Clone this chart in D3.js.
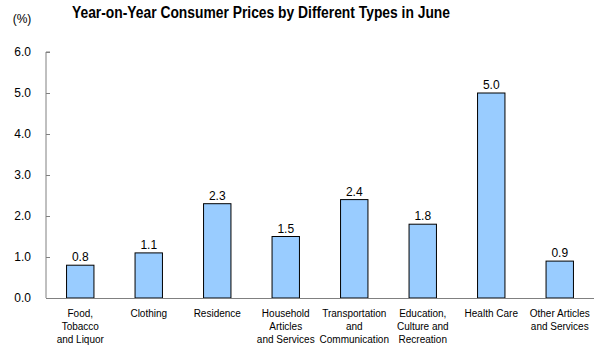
<!DOCTYPE html>
<html><head><meta charset="utf-8">
<script src="https://cdn.jsdelivr.net/npm/d3@7"></script>
<style>body{margin:0;background:#fff}svg{display:block}text{font-family:"Liberation Sans",Arial,sans-serif}</style>
</head><body>
<svg id="c" width="602" height="353"></svg>
<script>
const categories = [
  ["Food,","Tobacco","and Liquor"],
  ["Clothing"],
  ["Residence"],
  ["Household","Articles","and Services"],
  ["Transportation","and","Communication"],
  ["Education,","Culture and","Recreation"],
  ["Health Care"],
  ["Other Articles","and Services"]
];
const values = [0.8, 1.1, 2.3, 1.5, 2.4, 1.8, 5.0, 0.9];
const yTicks = [0, 1, 2, 3, 4, 5, 6];
const title = "Year-on-Year Consumer Prices by Different Types in June";
const unit = "(%)";

(function () {
const svg = d3.select("#c");
const mLeft = 46, mRight = 594, mTop = 52, mBottom = 298;
const x = d3.scaleBand().domain(d3.range(values.length)).range([mLeft, mRight]).paddingInner(0.6).paddingOuter(0.3);
const y = d3.scaleLinear().domain([0, 6]).range([mBottom, mTop]);

svg.append("text").attr("x", 261).attr("y", 18).attr("text-anchor", "middle")
  .attr("font-size", 16).attr("font-weight", "bold").attr("fill", "#000")
  .attr("textLength", 378).attr("lengthAdjust", "spacingAndGlyphs").text(title);
svg.append("text").attr("x", 22).attr("y", 23).attr("text-anchor", "middle")
  .attr("font-size", 12).attr("fill", "#000").text(unit);

const yAxis = svg.append("g").attr("transform", `translate(${mLeft},0)`)
  .call(d3.axisRight(y).tickValues(yTicks).tickSize(4).tickFormat(d3.format(".1f")));
yAxis.select(".domain").attr("stroke", "#808080").attr("d", `M4,${mTop}H0V${mBottom}`);
yAxis.selectAll(".tick line").attr("stroke", "#808080");
yAxis.selectAll(".tick text").attr("x", -15).attr("text-anchor", "end")
  .attr("font-size", 12).attr("fill", "#000").attr("font-family", '"Liberation Sans",Arial,sans-serif');

svg.selectAll("rect.bar").data(values).enter().append("rect")
  .attr("x", (d, i) => x(i)).attr("width", x.bandwidth())
  .attr("y", d => y(d)).attr("height", d => y(0) - y(d))
  .attr("fill", "#99ccff").attr("stroke", "#000").attr("stroke-width", 1);

svg.append("line").attr("x1", mLeft).attr("x2", mRight).attr("y1", mBottom + 0.5).attr("y2", mBottom + 0.5)
  .attr("stroke", "#808080");

svg.selectAll("text.val").data(values).enter().append("text")
  .attr("x", (d, i) => x(i) + x.bandwidth() / 2).attr("y", d => y(d) - 4)
  .attr("text-anchor", "middle").attr("font-size", 12).attr("fill", "#000")
  .text(d => d3.format(".1f")(d));

const cl = svg.selectAll("text.cat").data(categories).enter().append("text")
  .attr("text-anchor", "middle").attr("font-size", 10).attr("fill", "#000")
  .attr("transform", (d, i) => `translate(${x(i) + x.bandwidth() / 2},317)`);
cl.selectAll("tspan").data(d => d).enter().append("tspan")
  .attr("x", 0).attr("y", (d, j) => j * 13).text(d => d);
})();
</script>
</body></html>
